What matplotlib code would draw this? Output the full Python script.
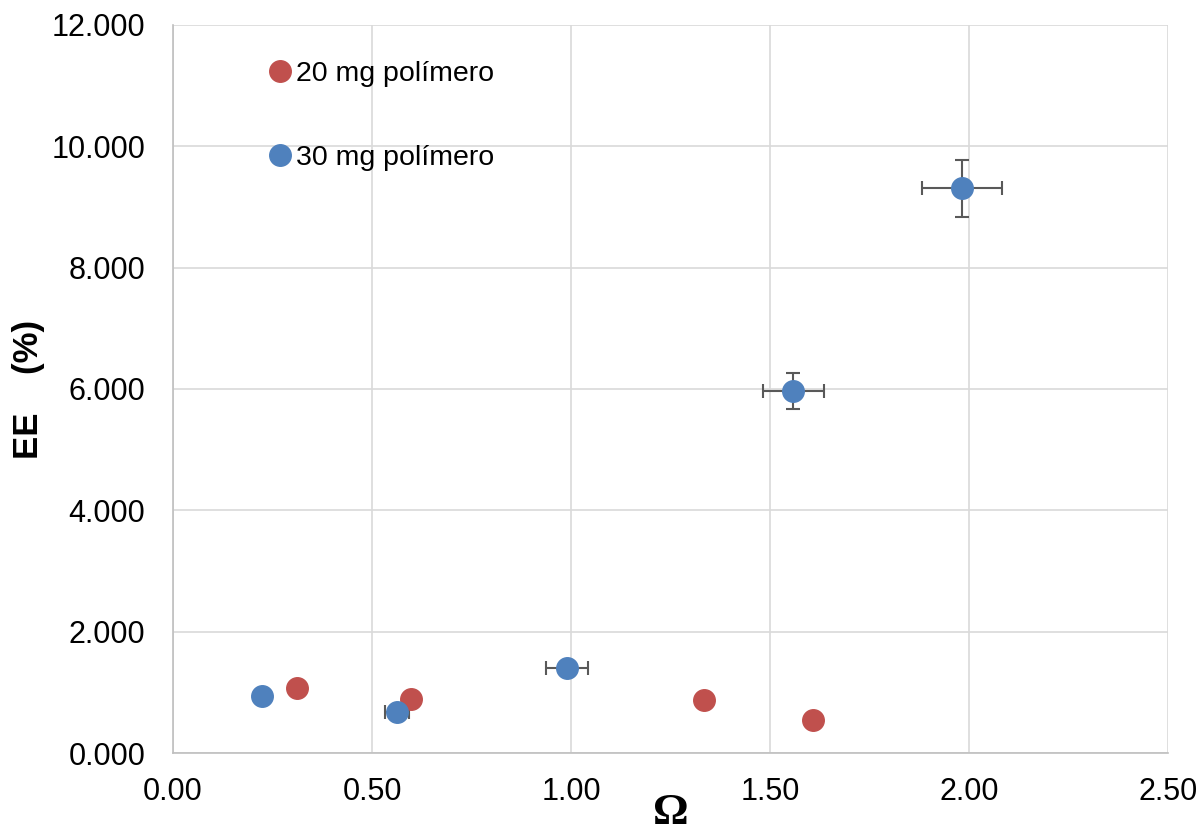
import matplotlib
matplotlib.use('Agg')
import matplotlib.pyplot as plt
from matplotlib.ticker import FuncFormatter

plt.rcParams['font.family'] = ['Liberation Sans', 'DejaVu Sans']

# 20 mg polimero
omega_20 = [0.312, 0.598, 1.334, 1.608]
ee_20 = [1.07, 0.89, 0.87, 0.54]

# 30 mg polimero (with error bars)
omega_30 = [0.224, 0.563, 0.990, 1.558, 1.982]
ee_30 = [0.94, 0.68, 1.40, 5.97, 9.31]
omega_30_err = [0.0, 0.03, 0.052, 0.077, 0.10]
ee_30_err = [0.0, 0.0, 0.0, 0.30, 0.47]

fig = plt.figure(figsize=(12.03, 8.35), dpi=100)
ax = fig.add_axes([0.1438, 0.0982, 0.8272, 0.872])

ax.errorbar(omega_30, ee_30, xerr=omega_30_err, yerr=ee_30_err, fmt='none',
            ecolor='#595959', elinewidth=1.5, capsize=5, capthick=1.5, zorder=2)
ax.plot(omega_20, ee_20, 'o', color='#C0504D', markersize=15.5,
        label='20 mg polímero', zorder=3)
ax.plot(omega_30, ee_30, 'o', color='#4F81BD', markersize=15.5,
        label='30 mg polímero', zorder=4)

ax.set_xlim(0, 2.5)
ax.set_ylim(0, 12)
ax.set_xticks([0, 0.5, 1.0, 1.5, 2.0, 2.5])
ax.set_yticks([0, 2, 4, 6, 8, 10, 12])
ax.xaxis.set_major_formatter(FuncFormatter(lambda v, p: '%.2f' % v))
ax.yaxis.set_major_formatter(FuncFormatter(lambda v, p: '%.3f' % v))
ax.tick_params(length=0, labelsize=22)
ax.tick_params(axis='y', pad=20)
ax.tick_params(axis='x', pad=17)
ax.grid(True, color='#D9D9D9', linewidth=1.2)
ax.set_axisbelow(True)
for s in ['top', 'right']:
    ax.spines[s].set_visible(False)
for s in ['left', 'bottom']:
    ax.spines[s].set_color('#BFBFBF')
    ax.spines[s].set_linewidth(1.2)

xl = ax.set_xlabel('Ω', fontsize=32, family=['Liberation Serif'], fontweight='bold')
xl.set_va('bottom')
ax.xaxis.set_label_coords(0.5, -0.1105)
yl = ax.set_ylabel('EE    (%)', fontsize=25, fontweight='bold')
yl.set_va('center')
ax.yaxis.set_label_coords(-0.145, 0.5)

leg = ax.legend(loc='upper left', bbox_to_anchor=(0.082, 0.966), frameon=False,
                fontsize=20.5, handletextpad=0.05, labelspacing=2.05,
                handlelength=1.0, borderaxespad=0)

fig.savefig('out.png', dpi=100)
